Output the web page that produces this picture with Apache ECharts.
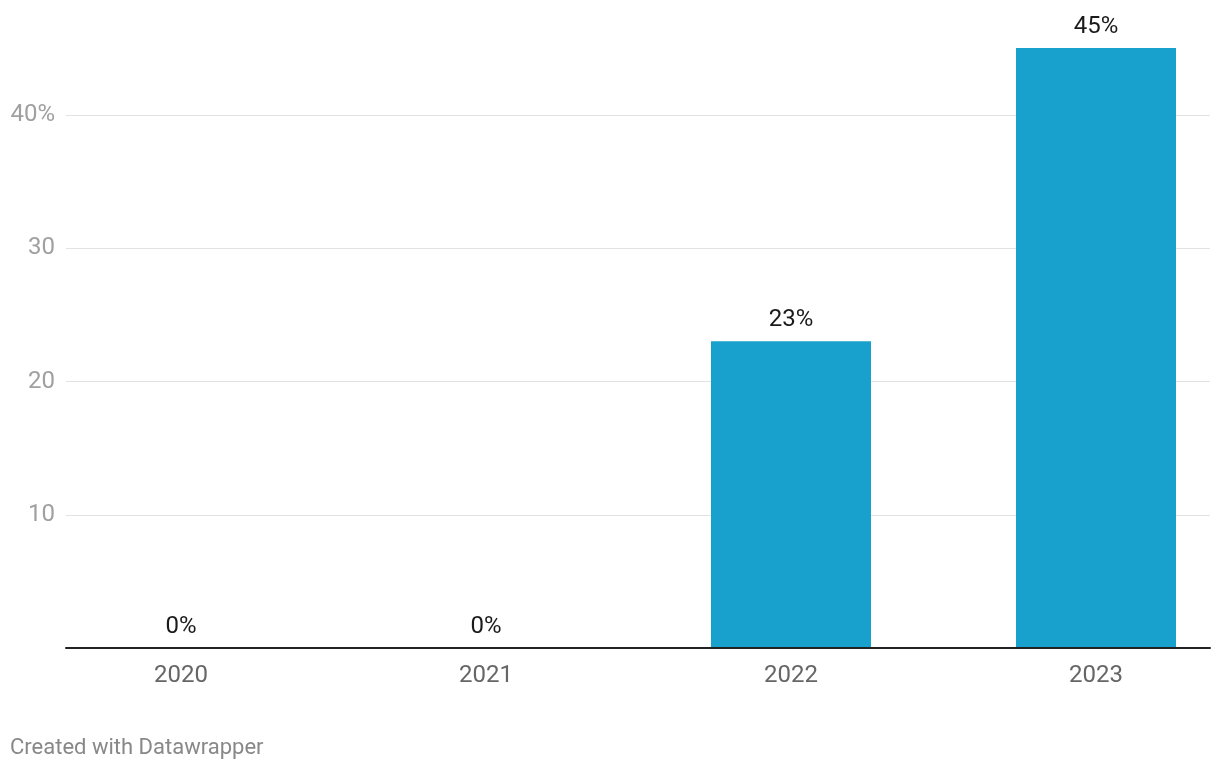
<!DOCTYPE html>
<html><head><meta charset="utf-8">
<script src="https://cdn.jsdelivr.net/npm/echarts@6/dist/echarts.min.js"></script>
<style>html,body{margin:0;padding:0;background:#fff;overflow:hidden}#c{width:1220px;height:770px}</style>
</head><body><div id="c"></div>
<script>
const categories = ['2020', '2021', '2022', '2023'];
const values = [0, 0, 23, 45];
const yTicks = [0, 10, 20, 30, 40];

const chart = echarts.init(document.getElementById('c'));
const font = 'Roboto, sans-serif';
chart.setOption({
  animation: false,
  grid: [
    {left: 66, right: 10, top: 115, bottom: 122, outerBoundsMode: 'none', containLabel: false},
    {left: 28.5, right: -28.5, top: 48, bottom: 122, outerBoundsMode: 'none', containLabel: false}
  ],
  xAxis: [
    {gridIndex: 0, type: 'category', data: categories, axisLabel: {show: false}, axisTick: {show: false},
     axisLine: {show: true, lineStyle: {color: '#222', width: 2}}, z: 5},
    {gridIndex: 1, type: 'category', data: categories, axisTick: {show: false}, axisLine: {show: false},
     axisLabel: {color: '#666', fontFamily: font, fontSize: 24, margin: 16}}
  ],
  yAxis: [
    {gridIndex: 0, type: 'value', min: yTicks[0], max: yTicks[yTicks.length - 1], interval: 10,
     axisLine: {show: false}, axisTick: {show: false},
     splitLine: {lineStyle: {color: '#e2e2e2', width: 1}},
     axisLabel: {color: '#a0a0a0', fontFamily: font, fontSize: 24, margin: 11, padding: [4, 0, 0, 0],
       formatter: v => v === 0 ? '' : (v === 40 ? v + '%' : String(v))}},
    {gridIndex: 1, type: 'value', min: 0, max: 45, show: false, splitLine: {show: false}}
  ],
  series: [{
    type: 'bar', xAxisIndex: 1, yAxisIndex: 1, data: values, barWidth: 160,
    itemStyle: {color: '#18a1cd'},
    label: {show: true, position: 'top', distance: 9, color: '#1a1a1a', fontFamily: font, fontSize: 24,
      formatter: p => p.value + '%'}
  }],
  graphic: [{type: 'text', left: 10, top: 737,
    style: {text: 'Created with Datawrapper', fill: '#888', font: '22px Roboto, sans-serif'}}]
});
</script></body></html>
